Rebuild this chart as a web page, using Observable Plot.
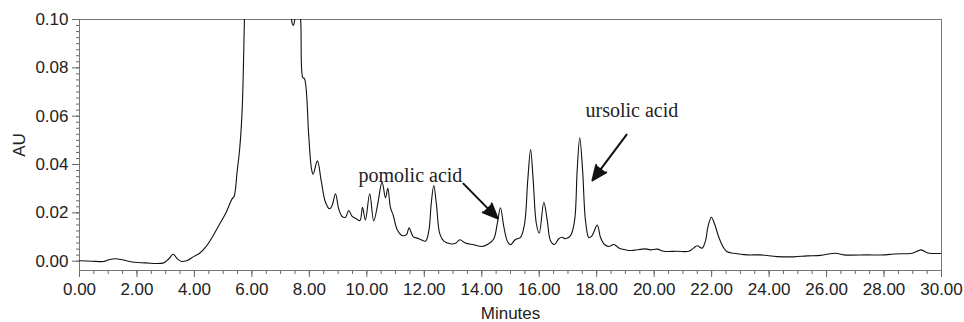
<!DOCTYPE html>
<html>
<head>
<meta charset="utf-8">
<script src="https://cdn.jsdelivr.net/npm/d3@7"></script>
<script src="https://cdn.jsdelivr.net/npm/@observablehq/plot@0.6"></script>
<style>
  html, body { margin: 0; padding: 0; background: #fff; }
  #chart svg { display: block; }
</style>
</head>
<body>
<div id="chart"></div>
<script>
// Chromatogram trace: retention time (min) and absorbance (AU)
const minutes = [
  0.00, 0.44, 0.85, 1.02, 1.25, 1.49, 1.83, 2.30, 2.93, 3.11, 3.26, 3.40, 3.55, 3.75, 3.98,
  4.18, 4.39, 4.62, 4.85, 5.08, 5.31, 5.38, 5.49, 5.57, 5.66, 5.74, 5.85, 6.20, 6.80, 7.20,
  7.33, 7.40, 7.44, 7.48, 7.55, 7.64, 7.70, 7.77, 7.83, 7.98, 8.07, 8.13, 8.28, 8.41, 8.56,
  8.70, 8.79, 8.91, 9.02, 9.14, 9.26, 9.37, 9.49, 9.64, 9.76, 9.85, 9.95, 10.10, 10.24, 10.38,
  10.53, 10.65, 10.73, 10.82, 10.92, 11.06, 11.23, 11.38, 11.47, 11.61, 11.81, 12.04, 12.16, 12.24, 12.33,
  12.42, 12.54, 12.68, 12.91, 13.09, 13.24, 13.43, 13.72, 14.01, 14.24, 14.42, 14.54, 14.65, 14.77, 14.89,
  15.00, 15.17, 15.35, 15.49, 15.60, 15.70, 15.79, 15.90, 16.00, 16.16, 16.28, 16.39, 16.53, 16.68, 16.80,
  16.91, 17.09, 17.23, 17.32, 17.41, 17.51, 17.61, 17.73, 17.84, 18.02, 18.13, 18.27, 18.42, 18.60, 18.77,
  19.00, 19.18, 19.70, 19.87, 20.11, 20.34, 20.80, 21.21, 21.38, 21.50, 21.67, 21.79, 21.87, 21.99, 22.10,
  22.25, 22.42, 22.54, 22.77, 23.24, 23.70, 24.28, 24.86, 25.33, 25.79, 26.31, 26.60, 27.41, 28.05, 28.34,
  28.98, 29.15, 29.29, 29.50, 29.68, 30.00
];
const absorbance = [
  0.0002, 0.0000, -0.0001, 0.0006, 0.0010, 0.0006, -0.0003, -0.0007, -0.0007, 0.0010, 0.0029, 0.0010, -0.0001, 0.0003, 0.0020,
  0.0033, 0.0058, 0.0099, 0.0148, 0.0196, 0.0258, 0.0268, 0.0375, 0.0458, 0.0623, 0.1000, 0.1600, 0.3000, 0.2500, 0.1400,
  0.1080, 0.0985, 0.0975, 0.0990, 0.1060, 0.1050, 0.0990, 0.0760, 0.0755, 0.0515, 0.0385, 0.0360, 0.0415, 0.0334, 0.0244,
  0.0217, 0.0230, 0.0279, 0.0217, 0.0185, 0.0182, 0.0210, 0.0185, 0.0175, 0.0168, 0.0223, 0.0170, 0.0279, 0.0166, 0.0237,
  0.0327, 0.0262, 0.0302, 0.0223, 0.0189, 0.0130, 0.0106, 0.0110, 0.0138, 0.0102, 0.0093, 0.0083, 0.0127, 0.0237, 0.0313,
  0.0237, 0.0113, 0.0083, 0.0072, 0.0074, 0.0089, 0.0075, 0.0068, 0.0061, 0.0072, 0.0093, 0.0155, 0.0221, 0.0141, 0.0083,
  0.0068, 0.0090, 0.0099, 0.0155, 0.0334, 0.0462, 0.0334, 0.0155, 0.0116, 0.0244, 0.0168, 0.0086, 0.0069, 0.0093, 0.0099,
  0.0093, 0.0106, 0.0168, 0.0375, 0.0511, 0.0375, 0.0168, 0.0097, 0.0106, 0.0150, 0.0099, 0.0069, 0.0061, 0.0069, 0.0055,
  0.0047, 0.0044, 0.0051, 0.0047, 0.0050, 0.0041, 0.0041, 0.0041, 0.0055, 0.0064, 0.0054, 0.0086, 0.0141, 0.0182, 0.0155,
  0.0099, 0.0055, 0.0039, 0.0033, 0.0026, 0.0026, 0.0019, 0.0018, 0.0022, 0.0024, 0.0033, 0.0026, 0.0026, 0.0026, 0.0030,
  0.0033, 0.0041, 0.0047, 0.0035, 0.0032, 0.0032
];

// Axis ticks
const xTicks = [0, 2, 4, 6, 8, 10, 12, 14, 16, 18, 20, 22, 24, 26, 28, 30];
const xMinorTicks = d3.range(0, 30.001, 0.5);
const yTicks = [0.00, 0.02, 0.04, 0.06, 0.08, 0.10];
const yMinorTicks = d3.range(0, 0.10001, 0.0025);

// Annotations (data coordinates)
const annotLabels = ["pomolic acid", "ursolic acid"];
const annotTextX = [9.71, 17.61];
const annotTextY = [0.0326, 0.0595];
const arrowFromX = [13.36, 19.04];
const arrowFromY = [0.0321, 0.0524];
const arrowToX = [14.55, 17.85];
const arrowToY = [0.0177, 0.0334];

const trace = minutes.map((t, i) => ({t, v: absorbance[i]}));
const annots = annotLabels.map((label, i) => ({
  label, tx: annotTextX[i], ty: annotTextY[i],
  x1: arrowFromX[i], y1: arrowFromY[i], x2: arrowToX[i], y2: arrowToY[i]
}));

const axisStroke = "#666";
const textColor = "#222";

const chart = Plot.plot({
  width: 964,
  height: 322,
  marginLeft: 79,
  marginRight: 23,
  marginTop: 19,
  marginBottom: 52,
  style: {
    fontFamily: "'Liberation Sans', Arial, Helvetica, sans-serif",
    fontSize: "17px",
    color: textColor,
    background: "#fff",
    overflow: "visible"
  },
  x: {domain: [0, 30]},
  y: {domain: [-0.00385, 0.10]},
  marks: [
    Plot.axisX({ticks: xMinorTicks, tickSize: 4, tickFormat: () => "", label: null, stroke: axisStroke}),
    Plot.axisX({
      ticks: xTicks, tickSize: 7, tickPadding: 5, tickFormat: d => d.toFixed(2),
      stroke: axisStroke, fill: textColor,
      label: "Minutes", labelAnchor: "center", labelArrow: "none", labelOffset: 48
    }),
    Plot.axisY({ticks: yMinorTicks, tickSize: 3, tickFormat: () => "", label: null, stroke: axisStroke}),
    Plot.axisY({
      ticks: yTicks, tickSize: 7, tickPadding: 4, tickFormat: d => d.toFixed(2),
      stroke: axisStroke, fill: textColor,
      label: "AU", labelAnchor: "center", labelArrow: "none", labelOffset: 67
    }),
    Plot.frame({stroke: "#777"}),
    Plot.line(trace, {x: "t", y: "v", stroke: "#111", strokeWidth: 1.1, curve: "catmull-rom", clip: true}),
    Plot.arrow(annots, {
      x1: "x1", y1: "y1", x2: "x2", y2: "y2",
      stroke: "#111", fill: "#111", strokeWidth: 2, headLength: 12, headAngle: 46
    }),
    Plot.text(annots, {
      x: "tx", y: "ty", text: "label", textAnchor: "start", lineAnchor: "bottom",
      fontFamily: "'Liberation Serif', 'Times New Roman', serif", fontSize: 20, fill: "#222"
    })
  ]
});
document.getElementById("chart").appendChild(chart);
</script>
</body>
</html>
